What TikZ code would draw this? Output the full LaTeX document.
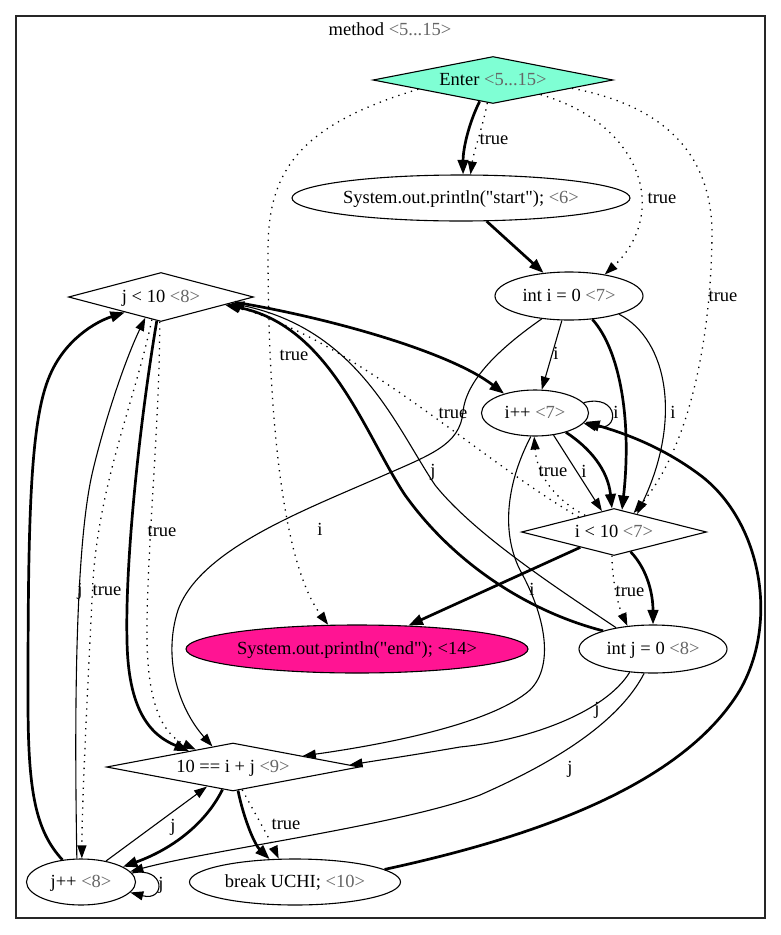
\documentclass[tikz,border=0pt]{standalone}
\usepackage{fontspec}
\setmainfont{Liberation Serif}[Ligatures=TeXOff]
\usetikzlibrary{shapes.geometric,arrows.meta}
\definecolor{enterc}{HTML}{7FFFD4}
\definecolor{endc}{HTML}{FF1493}
\newcommand{\lnr}[1]{\textcolor{black!60}{#1}}
\tikzset{
  base/.style={font=\fontsize{18.5}{22}\selectfont, inner sep=0pt, text height=1.15em, text depth=0pt},
  ell/.style={base, draw, ellipse, line width=1.1pt},
  dia/.style={base, draw, diamond, aspect=4, line width=1.1pt},
  lbl/.style={base},
  thinedge/.style={line width=1.1pt, -{Triangle[length=13pt,width=9pt]}},
  boldedge/.style={line width=2.7pt, -{Triangle[length=14.5pt,width=10.5pt]}},
  dotedge/.style={line width=1.3pt, dash pattern=on 1.3pt off 5.3pt, -{Triangle[length=13pt,width=9pt]}},
}
\begin{document}
\begin{tikzpicture}[x=1pt,y=-1pt]
\useasboundingbox (0,0) rectangle (781,935);
\draw[line width=1.1pt, black!85] (16,16) rectangle (765,918);
\node[lbl] (title) at (390,30) {method \lnr{<5...15>}};

% nodes
\node[dia, fill=enterc, minimum width=240pt, minimum height=47pt] (enter) at (493,80) {Enter \lnr{<5...15>}};
\node[ell, minimum width=338pt, minimum height=46pt] (start) at (461,198) {System.out.println("start"); \lnr{<6>}};
\node[ell, minimum width=148pt, minimum height=48pt] (inti) at (569,296) {int i = 0 \lnr{<7>}};
\node[dia, minimum width=185pt, minimum height=49pt] (jlt) at (161,297) {j < 10 \lnr{<8>}};
\node[ell, minimum width=107pt, minimum height=46pt] (ipp) at (535,413) {i++ \lnr{<7>}};
\node[dia, minimum width=185pt, minimum height=47pt] (ilt) at (614,532) {i < 10 \lnr{<7>}};
\node[ell, fill=endc, minimum width=342pt, minimum height=48pt] (endn) at (357,649) {System.out.println("end"); <14>};
\node[ell, minimum width=148pt, minimum height=48pt] (intj) at (653,649) {int j = 0 \lnr{<8>}};
\node[dia, minimum width=253pt, minimum height=48pt] (eq) at (233,767) {10 == i + j \lnr{<9>}};
\node[ell, minimum width=109pt, minimum height=46pt] (jpp) at (81,882) {j++ \lnr{<8>}};
\node[ell, minimum width=211pt, minimum height=46pt] (brk) at (295,882) {break UCHI; \lnr{<10>}};

% edges from Enter
\draw[boldedge] (enter.-122) .. controls (468,125) and (463,150) .. (start.85);
\draw[dotedge] (enter.-104) .. controls (482,130) and (474,150) .. (start.68);
\draw[dotedge] (enter.-17) .. controls (645,125) and (668,215) .. (inti.31);
\draw[dotedge] (enter.-6) .. controls (660,105) and (710,150) .. (712,230) .. controls (712,320) and (695,440) .. (ilt.44);
\draw[dotedge] (enter.-173) .. controls (300,125) and (268,170) .. (268,250) .. controls (268,400) and (280,560) .. (endn.140);
\draw[boldedge] (start) -- (inti);

% from int i
\draw[thinedge] (inti) -- (ipp);
\draw[boldedge] (inti.-45) .. controls (620,350) and (632,420) .. (ilt.70);
\draw[thinedge] (inti.-20) .. controls (668,340) and (682,420) .. (ilt.38);
\draw[thinedge] (inti.-140) .. controls (500,348) and (466,380) .. (463,412) .. controls (460,445) and (430,455) .. (380,477) .. controls (300,512) and (200,550) .. (178,610) .. controls (162,660) and (180,710) .. (eq.135);

% from i++
\draw[thinedge] (ipp.12) .. controls (620,393) and (620,433) .. (ipp.-12);
\draw[thinedge] (ipp.-50) -- (ilt.120);
\draw[boldedge] (ipp.-32) .. controls (590,448) and (608,470) .. (ilt.95);
\draw[thinedge] (ipp.-100) .. controls (508,480) and (500,530) .. (520,570) .. controls (545,615) and (555,665) .. (530,690) .. controls (490,725) and (380,745) .. (eq.9);

% from i < 10
\draw[dotedge] (ilt.150) .. controls (555,500) and (537,475) .. (ipp.-92);
\draw[boldedge] (ilt) -- (endn);
\draw[dotedge] (ilt.-95) .. controls (612,580) and (618,605) .. (intj.138);
\draw[boldedge] (ilt.-50) .. controls (648,570) and (653,595) .. (intj.north);
\draw[dotedge] (ilt.157) .. controls (480,460) and (360,345) .. (jlt.-6);

% from int j
\draw[boldedge] (intj.160) .. controls (530,612) and (455,565) .. (405,495) .. controls (365,435) and (330,325) .. (jlt.-7);
\draw[thinedge] (intj.150) .. controls (560,590) and (475,535) .. (435,485) .. controls (395,425) and (358,330) .. (jlt.-5);
\draw[thinedge] (intj.-135) .. controls (605,712) and (530,740) .. (460,747) .. controls (420,754) and (380,760) .. (eq.1);
\draw[thinedge] (intj.-110) .. controls (620,720) and (560,760) .. (480,795) .. controls (400,825) and (210,850) .. (jpp.12);

% from j < 10
\draw[boldedge] (jlt.-4) .. controls (330,318) and (450,352) .. (ipp.148);
\draw[boldedge] (jlt.-100) .. controls (140,420) and (125,560) .. (127,640) .. controls (128,710) and (150,735) .. (eq.160);
\draw[dotedge] (jlt.-93) .. controls (160,420) and (146,560) .. (147,640) .. controls (148,710) and (165,735) .. (eq.155);
\draw[dotedge] (jlt.-112) .. controls (135,400) and (100,480) .. (93,580) .. controls (88,680) and (82,800) .. (jpp.88);

% from j++
\draw[thinedge] (jpp.100) .. controls (74,700) and (76,540) .. (93,470) .. controls (105,420) and (125,360) .. (jlt.-127);
\draw[boldedge] (jpp.130) .. controls (35,830) and (28,790) .. (28,700) .. controls (28,520) and (30,420) .. (50,375) .. controls (65,340) and (95,322) .. (jlt.-157);
\draw[thinedge] (jpp.40) -- (eq.-143);
\draw[thinedge] (jpp.10) .. controls (166,866) and (166,902) .. (jpp.-12);

% from 10 == i + j
\draw[boldedge] (eq.-115) .. controls (205,825) and (170,850) .. (jpp.20);
\draw[boldedge] (eq.-78) .. controls (244,820) and (255,845) .. (brk.138);
\draw[dotedge] (eq.-68) .. controls (256,815) and (270,840) .. (brk.125);

% from break
\draw[boldedge] (brk.8) .. controls (520,840) and (680,790) .. (740,690) .. controls (780,620) and (760,520) .. (700,475) .. controls (660,445) and (620,432) .. (ipp.-10);

% labels
\node[lbl] (l1) at (494,139) {true};
\node[lbl] (l2) at (662,198) {true};
\node[lbl] (l3) at (723,296) {true};
\node[lbl] (l4) at (294,355) {true};
\node[lbl] (l5) at (556,354) {i};
\node[lbl] (l6) at (673,413) {i};
\node[lbl] (l7) at (616,413) {i};
\node[lbl] (l8) at (453,413) {true};
\node[lbl] (l9) at (553,471) {true};
\node[lbl] (l10) at (584,472) {i};
\node[lbl] (l11) at (433,471) {j};
\node[lbl] (l12) at (320,530) {i};
\node[lbl] (l13) at (162,531) {true};
\node[lbl] (l14) at (532,590) {i};
\node[lbl] (l15) at (80,590) {j};
\node[lbl] (l16) at (107,590) {true};
\node[lbl] (l17) at (630,591) {true};
\node[lbl] (l18) at (597,709) {j};
\node[lbl] (l19) at (570,768) {j};
\node[lbl] (l20) at (173,826) {j};
\node[lbl] (l21) at (286,824) {true};
\node[lbl] (l22) at (161,884) {j};
\end{tikzpicture}
\end{document}
